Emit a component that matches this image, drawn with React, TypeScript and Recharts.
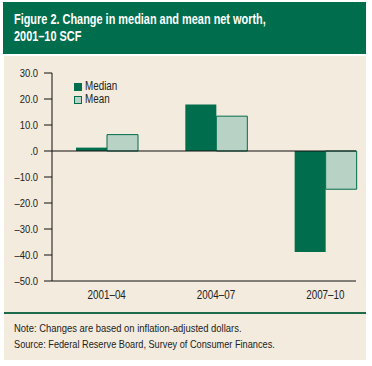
import { Bar, BarChart, ReferenceLine, XAxis, YAxis } from 'recharts';

const periods = ['2001–04', '2004–07', '2007–10'];
const medianChange = [1.3, 17.9, -38.8];
const meanChange = [6.3, 13.4, -14.7];
const yTicks = [-50, -40, -30, -20, -10, 0, 10, 20, 30];

const FONT = "'Liberation Sans', Arial, sans-serif";
const DARK = '#006d4c';
const LIGHT = '#b8d3c5';
const BEIGE = '#f3ebdd';
const SQUEEZE = 0.82;

const data = periods.map((p, i) => ({ period: p, median: medianChange[i], mean: meanChange[i] }));

function fmt(v: number) {
    if (v === 0) return '.0';
    if (v < 0) return '–' + Math.abs(v).toFixed(1);
    return v.toFixed(1);
}

// condensed look: the narrow font isn't around, so squeeze the regular one
function YTick(props: any) {
    const { x, y, payload } = props;
    return (
        <g transform={`translate(${x},${y})`}>
            <text transform={`scale(${SQUEEZE},1)`} textAnchor="end" dy="0.36em" fill="#222" fontSize={11.5} fontFamily={FONT}>
                {fmt(payload.value)}
            </text>
        </g>
    );
}

function XTick(props: any) {
    const { x, y, payload } = props;
    return (
        <g transform={`translate(${x},${y})`}>
            <text transform={`scale(${SQUEEZE},1)`} textAnchor="middle" dy="0.71em" fill="#222" fontSize={12} fontFamily={FONT}>
                {payload.value}
            </text>
        </g>
    );
}

function Squeezed({ children, k = SQUEEZE }: { children: any; k?: number }) {
    return (
        <span style={{ display: 'inline-block', whiteSpace: 'nowrap', transform: `scaleX(${k})`, transformOrigin: 'left center' }}>
            {children}
        </span>
    );
}

function LegendBox() {
    const row = (label: string, fill: string) => (
        <div style={{ display: 'flex', alignItems: 'center', height: 13 }}>
            <span style={{ display: 'inline-block', width: 8, height: 8, background: fill, border: `1px solid ${DARK}`, boxSizing: 'border-box', marginRight: 3 }} />
            <Squeezed>{label}</Squeezed>
        </div>
    );
    return (
        <div style={{ position: 'absolute', left: 74, top: 80, fontFamily: FONT, fontSize: 12, color: '#222', lineHeight: '13px' }}>
            {row('Median', DARK)}
            {row('Mean', LIGHT)}
        </div>
    );
}

export default function App() {
    return (
        <div style={{ position: 'absolute', left: 0, top: 0, width: 372, height: 366, background: '#fff', overflow: 'hidden' }}>
            <div style={{ position: 'absolute', left: 3, top: 2, width: 363, height: 52, background: DARK, color: '#fff', fontFamily: FONT, fontWeight: 'bold', fontSize: 14, lineHeight: '17px', boxSizing: 'border-box', padding: '9px 0 0 11px' }}>
                <Squeezed k={0.78}>Figure 2. Change in median and mean net worth,</Squeezed><br />
                <Squeezed k={0.78}>2001–10 SCF</Squeezed>
            </div>
            <div style={{ position: 'absolute', left: 4, top: 56, width: 362, height: 304, background: BEIGE }} />
            <div style={{ position: 'absolute', left: 4, top: 312, width: 362, height: 2, background: '#1d6b4a' }} />
            <div style={{ position: 'absolute', left: 14, top: 320, fontFamily: FONT, fontSize: 11.5, lineHeight: '16px', color: '#222' }}>
                <Squeezed>Note: Changes are based on inflation-adjusted dollars.</Squeezed><br />
                <Squeezed k={0.8}>Source: Federal Reserve Board, Survey of Consumer Finances.</Squeezed>
            </div>
            <div style={{ position: 'absolute', left: 0, top: 56 }}>
                <BarChart width={372} height={250} data={data} margin={{ top: 17, right: 16, bottom: 5, left: 0 }} barGap={0} barSize={31}>
                    <XAxis
                        dataKey="period"
                        axisLine={{ stroke: '#111' }}
                        tickLine={false}
                        tickSize={4}
                        tickMargin={5}
                        height={20}
                        padding={{ left: 0, right: -24 }}
                        tick={<XTick />}
                    />
                    <YAxis
                        domain={[-50, 30]}
                        ticks={yTicks}
                        width={52}
                        axisLine={{ stroke: '#111' }}
                        tickLine={{ stroke: '#111' }}
                        tickSize={8}
                        tickMargin={6}
                        tick={<YTick />}
                    />
                    <ReferenceLine y={0} stroke="#111" />
                    <Bar dataKey="median" fill={DARK} isAnimationActive={false} />
                    <Bar dataKey="mean" fill={LIGHT} stroke={DARK} strokeWidth={1} isAnimationActive={false} />
                </BarChart>
            </div>
            <LegendBox />
        </div>
    );
}
